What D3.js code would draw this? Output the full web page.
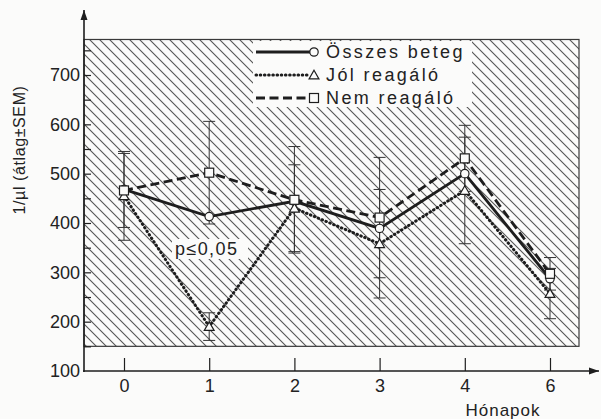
<!DOCTYPE html>
<html>
<head>
<meta charset="utf-8">
<script src="https://cdn.jsdelivr.net/npm/d3@7/dist/d3.min.js"></script>
<style>
  html, body { margin: 0; padding: 0; background: #fbfbfa; }
  svg { display: block; }
  text { font-family: "Liberation Sans", Arial, sans-serif; fill: #222; }
</style>
</head>
<body>
<svg id="chart" width="601" height="419"></svg>
<script>
// Months after treatment start (category labels on the x axis)
const months = ["0", "1", "2", "3", "4", "6"];

// Mean values per group (1/µl)
const osszesBeteg = [468, 413, 444, 389, 500, 287];
const joliReagalo = [455, 190, 430, 358, 466, 257];
const nemReagalo  = [466, 502, 447, 411, 531, 297];

// Standard error of the mean per group
const joliSEM = [90, 28, 88, 110, 108, 51];
const nemSEM  = [75, 104, 108, 122, 67, 33];

// Axis tick values
const yLabelTicks = [100, 200, 300, 400, 500, 600, 700];
const yMinorTicks = [150, 200, 250, 300, 350, 400, 450, 500, 550, 600, 650, 700, 750];

const DOTTED = "0.6,3.6";
const series = [
  { name: "Összes beteg", values: osszesBeteg, sem: null,    dash: null,   marker: "circle" },
  { name: "Jól reagáló",  values: joliReagalo, sem: joliSEM, dash: DOTTED, marker: "triangle" },
  { name: "Nem reagáló",  values: nemReagalo,  sem: nemSEM,  dash: "9,4.5", marker: "square" }
];

const svg = d3.select("#chart");
const ink = "#1e1e1e";

const x = d3.scalePoint().domain(months).range([124, 550]);
const y = d3.scaleLinear().domain([100, 700]).range([371, 75]);

const axisX0 = 84;
const plotRight = 579;
const plotTop = y(772);
const plotBottom = y(150);

// Diagonal hatch fill for the plotting area
const defs = svg.append("defs");
const pat = defs.append("pattern")
  .attr("id", "hatch")
  .attr("patternUnits", "userSpaceOnUse")
  .attr("width", 10).attr("height", 10);
pat.append("path")
  .attr("d", "M-1,-1 L11,11 M-6,4 L6,16 M4,-6 L16,6")
  .attr("stroke", "#555").attr("stroke-width", 1.1);

defs.append("marker")
  .attr("id", "arrow")
  .attr("viewBox", "0 0 10 10")
  .attr("refX", 10).attr("refY", 5)
  .attr("markerWidth", 10).attr("markerHeight", 10)
  .attr("markerUnits", "userSpaceOnUse")
  .attr("orient", "auto")
  .append("path").attr("d", "M0,1.5 L10,5 L0,8.5 Z").attr("fill", ink);

svg.append("rect")
  .attr("x", axisX0).attr("y", plotTop)
  .attr("width", plotRight - axisX0).attr("height", plotBottom - plotTop)
  .attr("fill", "url(#hatch)")
  .attr("stroke", "#3a3a3a").attr("stroke-width", 1.2);

// Cleared boxes behind the legend and the significance note
svg.append("rect")
  .attr("x", 253).attr("y", plotTop + 1.5)
  .attr("width", 219).attr("height", 66)
  .attr("fill", "#fbfbfa");

const pNote = { x: 175, y: 249, text: "p≤0,05" };
svg.append("rect")
  .attr("x", pNote.x - 3).attr("y", pNote.y - 10)
  .attr("width", 76).attr("height", 20)
  .attr("fill", "#fbfbfa");
svg.append("text")
  .attr("x", pNote.x).attr("y", pNote.y)
  .attr("dy", "0.35em")
  .style("font-size", "18px")
  .style("letter-spacing", "1.4px")
  .text(pNote.text);

// Error bars (mean ± SEM)
const errG = svg.append("g").attr("stroke", "#333").attr("stroke-width", 1);
series.filter(s => s.sem).forEach(s => {
  months.forEach((m, i) => {
    const cx = x(m);
    const lo = y(s.values[i] - s.sem[i]);
    const hi = y(s.values[i] + s.sem[i]);
    errG.append("line").attr("x1", cx).attr("x2", cx).attr("y1", lo).attr("y2", hi);
    errG.append("line").attr("x1", cx - 6).attr("x2", cx + 6).attr("y1", lo).attr("y2", lo);
    errG.append("line").attr("x1", cx - 6).attr("x2", cx + 6).attr("y1", hi).attr("y2", hi);
  });
});

// Connecting lines
const line = d3.line().x((d, i) => x(months[i])).y(d => y(d));
series.forEach(s => {
  svg.append("path")
    .datum(s.values)
    .attr("d", line)
    .attr("fill", "none")
    .attr("stroke", ink)
    .attr("stroke-width", s.dash === DOTTED ? 3 : 2.8)
    .attr("stroke-dasharray", s.dash)
    .attr("stroke-linecap", s.dash === DOTTED ? "round" : "butt");
});

function drawMarker(g, type, cx, cy) {
  if (type === "circle") {
    g.append("circle").attr("cx", cx).attr("cy", cy).attr("r", 4.2);
  } else if (type === "square") {
    g.append("rect").attr("x", cx - 4.5).attr("y", cy - 4.5).attr("width", 9).attr("height", 9);
  } else {
    const sym = d3.symbol().type(d3.symbolTriangle).size(42);
    g.append("path").attr("d", sym()).attr("transform", `translate(${cx},${cy + 1})`);
  }
}

const markG = svg.append("g").attr("fill", "#fbfbfa").attr("stroke", ink).attr("stroke-width", 1.2);
series.forEach(s => {
  s.values.forEach((v, i) => drawMarker(markG, s.marker, x(months[i]), y(v)));
});

// Legend
const legend = svg.append("g");
series.forEach((s, i) => {
  const ly = 52 + i * 23;
  legend.append("line")
    .attr("x1", 256).attr("x2", 310).attr("y1", ly).attr("y2", ly)
    .attr("stroke", ink).attr("stroke-width", s.dash === DOTTED ? 3 : 2.8)
    .attr("stroke-dasharray", s.dash)
    .attr("stroke-linecap", s.dash === DOTTED ? "round" : "butt");
  const lg = legend.append("g").attr("fill", "#fbfbfa").attr("stroke", ink).attr("stroke-width", 1.2);
  drawMarker(lg, s.marker, 314, ly);
  legend.append("text")
    .attr("x", 326).attr("y", ly).attr("dy", "0.35em")
    .style("font-size", "18px")
    .style("letter-spacing", "2.4px")
    .text(s.name);
});

// Y axis: inward ticks every 50, labels every 100
const yTicks = svg.append("g").attr("transform", `translate(${axisX0},0)`)
  .call(d3.axisRight(y).tickValues(yMinorTicks).tickSize(7).tickFormat(""));
yTicks.select(".domain").remove();
yTicks.selectAll("line").attr("stroke", ink).attr("stroke-width", 1.2);

const yLabels = svg.append("g").attr("transform", `translate(${axisX0},0)`)
  .call(d3.axisLeft(y).tickValues(yLabelTicks).tickSize(0).tickPadding(4));
yLabels.select(".domain").remove();
yLabels.selectAll("text")
  .style("font-size", "18px")
  .style("font-family", "'Liberation Sans', Arial, sans-serif")
  .attr("fill", "#222");

svg.append("line")
  .attr("x1", axisX0).attr("x2", axisX0)
  .attr("y1", y(100) + 1).attr("y2", 10)
  .attr("stroke", ink).attr("stroke-width", 1.6)
  .attr("marker-end", "url(#arrow)");

// X axis: upward ticks at each month
const xAxis = svg.append("g").attr("transform", `translate(0,${y(100)})`)
  .call(d3.axisBottom(x).tickSize(0).tickPadding(8));
xAxis.select(".domain").remove();
xAxis.selectAll("text")
  .style("font-size", "18px")
  .style("font-family", "'Liberation Sans', Arial, sans-serif")
  .attr("fill", "#222");
xAxis.selectAll(".tick").append("line")
  .attr("y1", 0).attr("y2", -13)
  .attr("stroke", ink).attr("stroke-width", 1.2);

svg.append("line")
  .attr("x1", axisX0 - 1).attr("x2", 599)
  .attr("y1", y(100)).attr("y2", y(100))
  .attr("stroke", ink).attr("stroke-width", 1.6)
  .attr("marker-end", "url(#arrow)");

// Axis titles
svg.append("text")
  .attr("x", 503).attr("y", 410).attr("dy", "0.35em")
  .attr("text-anchor", "middle")
  .style("font-size", "17px")
  .style("letter-spacing", "1px")
  .text("Hónapok");

svg.append("text")
  .attr("transform", "translate(19,150) rotate(-90)")
  .attr("dy", "0.35em")
  .attr("text-anchor", "middle")
  .style("font-size", "16px")
  .style("letter-spacing", "0.6px")
  .text("1/µl (átlag±SEM)");
</script>
</body>
</html>
